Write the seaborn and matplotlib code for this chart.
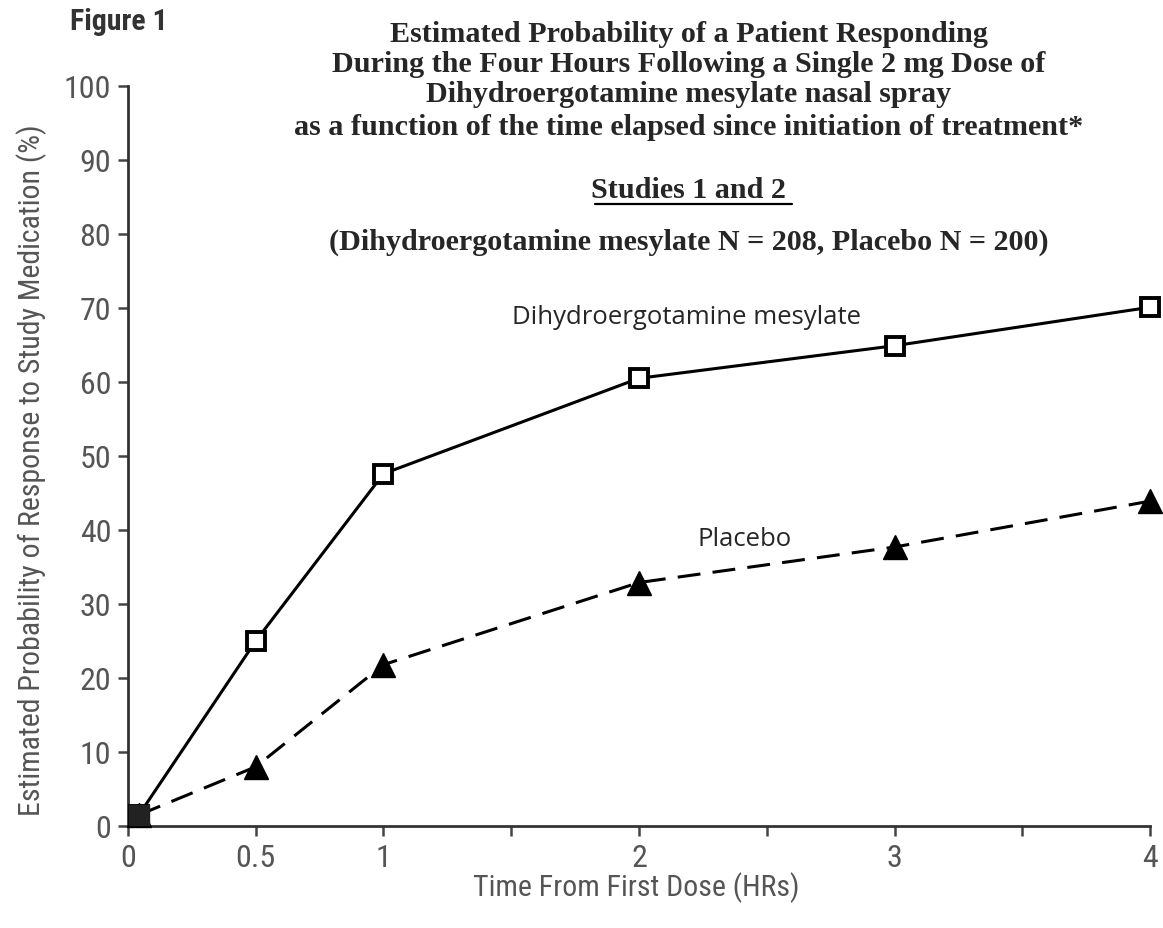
import matplotlib
matplotlib.use("Agg")
import matplotlib.pyplot as plt
import seaborn as sns
import pandas as pd
from matplotlib import font_manager

# ---- data ----
time_hrs = [0.043, 0.5, 1, 2, 3, 4]
dhe_values = [1.5, 25.0, 47.6, 60.5, 64.9, 70.1]
placebo_values = [1.5, 8.0, 21.8, 32.9, 37.7, 43.9]
series_names = ["Dihydroergotamine mesylate", "Placebo"]
x_ticks = [0, 0.5, 1, 1.5, 2, 2.5, 3, 3.5, 4]
x_tick_labels = ["0", "0.5", "1", "", "2", "", "3", "", "4"]
y_ticks = list(range(0, 101, 10))
title_lines = [
    "Estimated Probability of a Patient Responding",
    "During the Four Hours Following a Single 2 mg Dose of",
    "Dihydroergotamine mesylate nasal spray",
    "as a function of the time elapsed since initiation of treatment*",
]
subtitle = "Studies 1 and 2"
n_text = "(Dihydroergotamine mesylate N = 208, Placebo N = 200)"

sns.set_style("white")

# pick a condensed sans-serif if one is installed
entries = font_manager.fontManager.ttflist
names = {f.name for f in entries}
cond_family, cond_stretch = "DejaVu Sans", "normal"
for cand in ["Liberation Sans Narrow", "Arial Narrow", "Roboto Condensed", "DejaVu Sans Condensed"]:
    if cand in names:
        cond_family = cand
        break
else:
    if any(f.name == "DejaVu Sans" and str(f.stretch) not in ("normal", "400", "500") for f in entries):
        cond_stretch = "condensed"

plt.rcParams["font.family"] = [cond_family, "DejaVu Sans"]
plt.rcParams["font.stretch"] = cond_stretch
serif = "Liberation Serif"
annot = "Open Sans"

df = pd.DataFrame({
    "time": time_hrs * 2,
    "value": dhe_values + placebo_values,
    "series": [series_names[0]] * len(time_hrs) + [series_names[1]] * len(time_hrs),
})

fig = plt.figure(figsize=(11.63, 9.29), dpi=100)
ax = fig.add_axes([0.110, 0.1098, 0.879, 0.7966])

sns.lineplot(data=df, x="time", y="value", hue="series", style="series",
             palette={series_names[0]: "black", series_names[1]: "black"},
             dashes={series_names[0]: "", series_names[1]: (7.5, 4)},
             markers={series_names[0]: "s", series_names[1]: "^"},
             markersize=13.5, linewidth=2.2, legend=False, ax=ax, clip_on=False)

lines = ax.get_lines()
lines[0].set_markerfacecolor("white")
lines[0].set_markeredgecolor("black")
lines[0].set_markeredgewidth(2.8)
lines[1].set_markerfacecolor("black")
lines[1].set_markeredgecolor("black")
lines[1].set_markeredgewidth(1.0)
lines[1].set_markersize(17)
lines[0].set_zorder(4)
lines[1].set_zorder(3)

# filled origin point
ax.plot([time_hrs[0]], [dhe_values[0]], marker="s", markersize=15,
        color="#222222", linestyle="none", clip_on=False, zorder=5)

ax.set_xlim(0, 4)
ax.set_ylim(0, 100)
ax.set_xticks(x_ticks)
ax.set_xticklabels(x_tick_labels)
ax.set_yticks(y_ticks)

for s in ["top", "right"]:
    ax.spines[s].set_visible(False)
for s in ["left", "bottom"]:
    ax.spines[s].set_color("#333333")
    ax.spines[s].set_linewidth(2.0)

ax.tick_params(axis="both", direction="out", length=7, width=1.8, color="#444444",
               labelsize=23, labelcolor="#555555", left=True, bottom=True)
ax.tick_params(axis="y", pad=5)
ax.tick_params(axis="x", pad=5)

ax.set_xlabel("Time From First Dose (HRs)", fontsize=21.5, color="#555555")
ax.xaxis.set_label_coords(0.547, 1 - 888 / 929, transform=fig.transFigure)
ax.xaxis.label.set_va("center")
ax.set_ylabel("Estimated Probability of Response to Study Medication (%)", fontsize=21.5,
              color="#555555")
ax.yaxis.set_label_coords(32 / 1163, 1 - 470 / 929, transform=fig.transFigure)
ax.yaxis.label.set_va("center")

# annotations
ax.text(1.503, 68.8, series_names[0], fontsize=18.5, family=annot, stretch="normal",
        va="center", ha="left")
ax.text(2.227, 38.9, series_names[1], fontsize=18.5, family=annot, stretch="normal",
        va="center", ha="left")

# titles
fig.text(0.06, 0.976, "Figure 1", fontsize=21.5, fontweight="bold", color="#333333",
         va="center", ha="left")
cx = 0.592
ys = [0.963, 0.931, 0.898, 0.863]
for t, y in zip(title_lines, ys):
    fig.text(cx, y, t, fontsize=21.7, fontweight="bold", family=serif, stretch="normal",
             ha="center", va="center")
fig.text(cx, 0.7945, subtitle, fontsize=21.7, fontweight="bold", family=serif,
         stretch="normal", ha="center", va="center")
fig.add_artist(plt.Line2D([0.512, 0.681], [0.7795, 0.7795], color="black", linewidth=1.6,
                          transform=fig.transFigure))
fig.text(cx, 0.739, n_text, fontsize=21.7, fontweight="bold", family=serif,
         stretch="normal", ha="center", va="center")

fig.savefig("out.png", dpi=100)
